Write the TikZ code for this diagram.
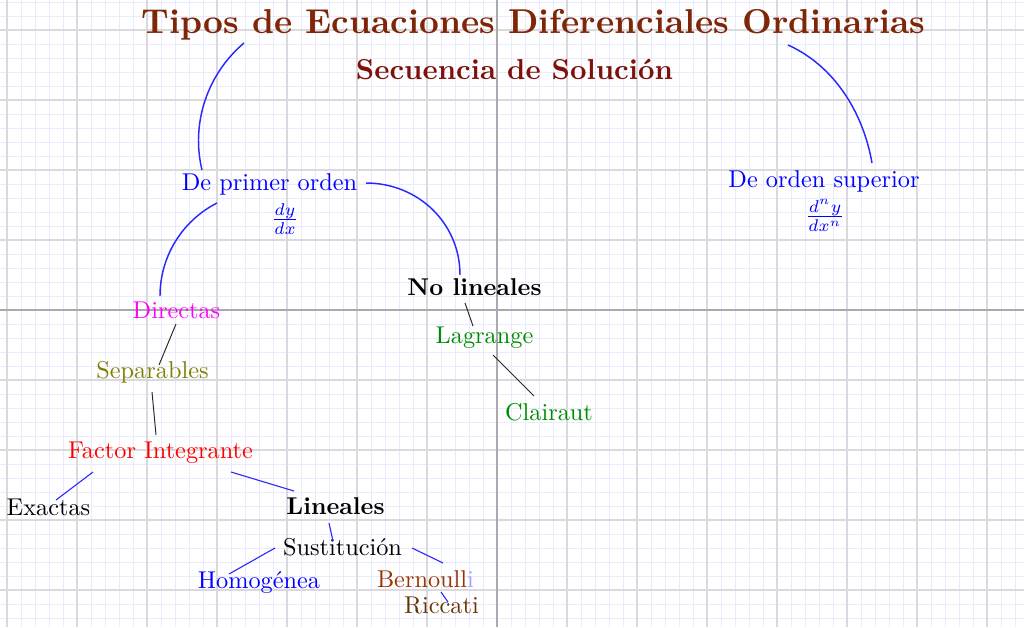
\documentclass[tikz,border=0pt]{standalone}
\usepackage{graphicx}
\definecolor{minorc}{RGB}{234,234,255}
\definecolor{majorc}{RGB}{218,218,222}
\definecolor{axisc}{RGB}{170,170,174}
\definecolor{titlec}{RGB}{128,38,8}
\definecolor{subc}{RGB}{125,18,12}
\definecolor{bluec}{RGB}{0,0,255}
\definecolor{linkb}{RGB}{40,40,255}
\definecolor{linkk}{RGB}{40,40,40}
\definecolor{magc}{RGB}{255,0,255}
\definecolor{olivec}{RGB}{128,128,0}
\definecolor{greenc}{RGB}{0,140,0}
\definecolor{bernc}{RGB}{153,51,0}
\definecolor{ricc}{RGB}{102,51,0}
\definecolor{palei}{RGB}{165,165,255}
\begin{document}
\begin{tikzpicture}[x=0.4115pt,y=-0.4115pt,
  lab/.style={anchor=base,inner sep=0pt,font=\fontsize{10}{12}\selectfont},
  arcb/.style={draw=linkb,line width=0.6pt},
  linb/.style={draw=linkb,line width=0.45pt},
  link/.style={draw=linkk,line width=0.4pt},
  minorl/.style={draw=minorc,line width=0.4pt},
  majorl/.style={draw=majorc,line width=0.45pt},
  axisl/.style={draw=axisc,line width=0.5pt}]
\useasboundingbox (0,0) rectangle (1024,627);
\fill[white] (0,0) rectangle (1024,627);
% grid
\foreach \i in {0,...,72} \draw[minorl] ({7+14*\i},0) -- ({7+14*\i},627);
\foreach \j in {0,...,44} \draw[minorl] (0,{2+14*\j}) -- (1024,{2+14*\j});
\foreach \i in {0,...,14} \draw[majorl] ({7+70*\i},0) -- ({7+70*\i},627);
\foreach \j in {0,...,8} \draw[majorl] (0,{30+70*\j}) -- (1024,{30+70*\j});
\draw[axisl] (497,0) -- (497,627);
\draw[axisl] (0,310) -- (1024,310);
% nodes
\node[lab,text=titlec] (title) at (533.5,33) {\scalebox{1.42}{\bfseries Tipos de Ecuaciones Diferenciales Ordinarias}};
\node[lab,text=subc] (sub) at (514.5,79) {\scalebox{1.184}{\bfseries Secuencia de Soluci\'on}};
\node[lab,text=bluec] (dpo) at (269.5,190) {De primer orden};
\node[lab,text=bluec] (fr1) at (285,226) {$\frac{dy}{dx}$};
\node[lab,text=bluec] (dos) at (824,187) {De orden superior};
\node[lab,text=bluec] (fr2) at (825,223) {$\frac{d^ny}{dx^n}$};
\node[lab,text=magc] (dir) at (176.5,318) {Directas};
\node[lab,text=olivec] (sep) at (152.5,378) {Separables};
\node[lab,text=red] (fac) at (160.5,458) {Factor Integrante};
\node[lab,text=black] (exa) at (48.5,515) {Exactas};
\node[lab,text=black] (lin) at (335.5,514) {\bfseries Lineales};
\node[lab,text=black] (sus) at (342.5,555) {Sustituci\'on};
\node[lab,text=bluec] (hom) at (259,588) {Homog\'enea};
\node[lab] (ber) at (425.5,587) {\textcolor{bernc}{Bernoull}\textcolor{palei}{i}};
\node[lab,text=ricc] (ric) at (441.5,613) {Riccati};
\node[lab,text=black] (nol) at (474.5,295) {\bfseries No lineales};
\node[lab,text=greenc] (lag) at (484.5,343) {Lagrange};
\node[lab,text=greenc] (cla) at (549,420) {Clairaut};
% arcs
\draw[arcb] ([shift={(-289.5,10)}]title.base) .. controls +(-36.7,31) and +(-11.3,-46.7) .. ([shift={(-67.5,-20)}]dpo.base);
\draw[arcb] ([shift={(254.5,12)}]title.base) .. controls +(46.6,21) and +(-8.8,-50.3) .. ([shift={(48,-24)}]dos.base);
\draw[arcb] ([shift={(96.5,-7)}]dpo.base) .. controls +(52,0) and +(0,-52) .. ([shift={(-14.5,-20)}]nol.base);
\draw[arcb] ([shift={(-52.5,13)}]dpo.base) .. controls +(-35,17.8) and +(0,-39.3) .. ([shift={(-16.5,-22)}]dir.base);
% straight links
\draw[link] ([shift={(-0.5,6)}]dir.base) -- ([shift={(6.5,-13)}]sep.base);
\draw[link] ([shift={(-0.5,14)}]sep.base) -- ([shift={(-4.5,-23)}]fac.base);
\draw[linb] ([shift={(-67.5,14)}]fac.base) -- ([shift={(7.5,-15)}]exa.base);
\draw[linb] ([shift={(70.5,14)}]fac.base) -- ([shift={(-41.5,-23)}]lin.base);
\draw[linb] ([shift={(-6.5,9)}]lin.base) -- ([shift={(-9.5,-14)}]sus.base);
\draw[linb] ([shift={(-67.5,-7)}]sus.base) -- ([shift={(-30,-14)}]hom.base);
\draw[linb] ([shift={(69.5,-7)}]sus.base) -- ([shift={(17.5,-24)}]ber.base);
\draw[linb] ([shift={(15.5,5)}]ber.base) -- ([shift={(6.5,-11)}]ric.base);
\draw[link] ([shift={(-9.5,8)}]nol.base) -- ([shift={(-11.5,-17)}]lag.base);
\draw[link] ([shift={(8.5,12)}]lag.base) -- ([shift={(-15,-24)}]cla.base);
\end{tikzpicture}
\end{document}
